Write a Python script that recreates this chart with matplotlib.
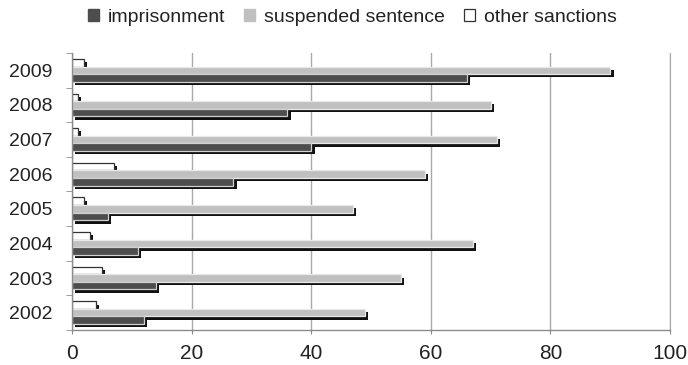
import numpy as np
import matplotlib.pyplot as plt
import matplotlib.patheffects as pe
from matplotlib.patches import Patch

plt.rcParams['font.family'] = ['Liberation Sans', 'DejaVu Sans']

years = ['2002', '2003', '2004', '2005', '2006', '2007', '2008', '2009']
imprisonment = [12, 14, 11, 6, 27, 40, 36, 66]
suspended = [49, 55, 67, 47, 59, 71, 70, 90]
other = [4, 5, 3, 2, 7, 1, 1, 2]

fig = plt.figure(figsize=(6.88, 3.65), dpi=100)
ax = fig.add_axes([0.1047, 0.0959, 0.8691, 0.7589])

y = np.arange(len(years))
h = 0.22
shadow = [pe.SimplePatchShadow(offset=(2.4, -2.4), shadow_rgbFace='#111111', alpha=1.0), pe.Normal()]

# top bar first so the ones below cover its shadow
b3 = ax.barh(y + h, other, height=h, color='white', edgecolor='#333333', linewidth=0.9)
b2 = ax.barh(y, suspended, height=h, color='#c0c0c0', edgecolor='#e8e8e8', linewidth=0.9)
b1 = ax.barh(y - h, imprisonment, height=h, color='#4d4d4d', edgecolor='#d0d0d0', linewidth=0.9)
for bars in (b3, b2, b1):
    for p in bars:
        p.set_path_effects(shadow)

ax.set_xlim(0, 100)
ax.set_ylim(-0.5, len(years) - 0.5)
ax.set_xticks(np.arange(0, 101, 20))
ax.set_yticks(y)
ax.set_yticklabels(years)
ax.set_yticks(np.arange(-0.5, len(years), 1), minor=True)

ax.grid(axis='x', color='#a8a8a8', linewidth=1)
ax.set_axisbelow(True)
ax.tick_params(axis='x', length=3, color='#8c8c8c', pad=7, labelsize=15, labelcolor='#222222')
ax.tick_params(axis='y', which='major', length=0, pad=14, labelsize=14, labelcolor='#222222')
ax.tick_params(axis='y', which='minor', length=4.5, color='#8c8c8c')

ax.spines['top'].set_visible(False)
for s in ('left', 'bottom'):
    ax.spines[s].set_color('#8c8c8c')
    ax.spines[s].set_linewidth(1)
ax.spines['right'].set_color('#a8a8a8')

handles = [Patch(facecolor='#4d4d4d', edgecolor='#4d4d4d'),
           Patch(facecolor='#c0c0c0', edgecolor='#c0c0c0'),
           Patch(facecolor='white', edgecolor='#333333', linewidth=0.9)]
fig.legend(handles, ['imprisonment', 'suspended sentence', 'other sanctions'],
           loc='center', bbox_to_anchor=(0.512, 0.952), ncol=3, frameon=False,
           fontsize=14, handlelength=0.55, handleheight=0.55, handletextpad=0.45,
           columnspacing=1.0, labelcolor='#222222')

plt.savefig('out.png', dpi=100)
